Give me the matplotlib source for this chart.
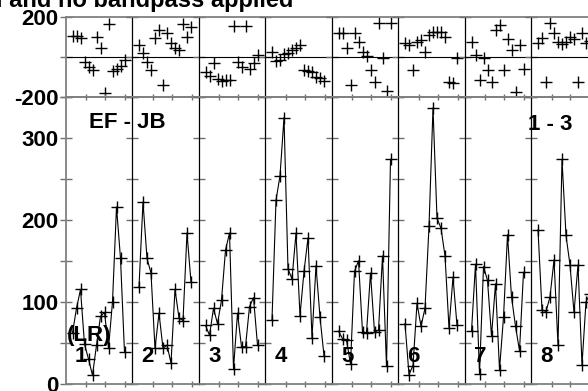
import matplotlib
matplotlib.use("Agg")
import matplotlib.pyplot as plt
import numpy as np

plt.rcParams['font.family'] = ['Liberation Sans', 'DejaVu Sans']
plt.rcParams['font.weight'] = 'bold'

# Data (14 channels per IF)
channels = np.arange(1, 15)
if_labels = ['1', '2', '3', '4', '5', '6', '7', '8']
baseline = 'EF - JB'
polarization = '(LR)'
timerange = '1 - 3'
title = 'Vector averaged, calibration applied and no bandpass applied'

amp_if1 = [62, 92, 115, 48, 30, 10, 47, 82, 87, 43, 100, 216, 153, 38]
amp_if2 = [118, 222, 153, 135, 43, 86, 43, 47, 25, 115, 80, 77, 184, 124]
amp_if3 = [71, 59, 92, 73, 102, 163, 184, 18, 86, 45, 45, 94, 105, 47]
amp_if4 = [78, 224, 254, 325, 140, 128, 184, 83, 137, 178, 56, 144, 81, 34]
amp_if5 = [64, 55, 53, 24, 137, 150, 63, 62, 135, 63, 65, 156, 21, 274]
amp_if6 = [73, 11, 22, 98, 70, 92, 192, 337, 202, 190, 156, 68, 130, 71]
amp_if7 = [64, 146, 12, 143, 126, 58, 122, 17, 81, 182, 106, 70, 40, 136]
amp_if8 = [188, 90, 88, 106, 151, 47, 274, 181, 145, 87, 145, 23, 100, 110]

phase_if1 = [106, 106, 95, -22, -47, -63, 100, 45, -177, 166, -67, -58, -42, -13]
phase_if2 = [61, 20, -22, -63, 95, 136, -138, 120, 70, 45, 36, 166, 100, 153]
phase_if3 = [-72, -93, -30, -110, -117, -113, -113, 156, -22, -47, 156, -60, -27, 11]
phase_if4 = [28, -17, -13, 16, 23, 36, 45, 61, -63, -67, -72, -100, -105, -117]
phase_if5 = [120, 120, 45, -138, 120, 78, 28, 8, -63, -122, 170, -5, -167, 173]
phase_if6 = [70, 61, -63, 78, 86, 28, 111, 125, 128, 128, 103, -122, -130, -5]
phase_if7 = [78, 11, -113, -5, -63, -122, 136, 161, -63, 90, 36, -172, 61, -60]
phase_if8 = [73, 95, -122, 170, 123, 78, 67, 78, 100, 90, -122, 123, 73, 80]

amps = [amp_if1, amp_if2, amp_if3, amp_if4, amp_if5, amp_if6, amp_if7, amp_if8]
phases = [phase_if1, phase_if2, phase_if3, phase_if4, phase_if5, phase_if6, phase_if7, phase_if8]

# layout in pixels
W, H = 588, 391
x0, pw = 65.5, 66.5
ph_top, mid, am_bot = 17.3, 97.3, 383.5
grey = '#808080'
fs = 16


def rect(left, top, bottom):
    return [left / W, 1 - bottom / H, pw / W, (bottom - top) / H]


fig = plt.figure(figsize=(W / 100, H / 100), dpi=100)

for p in range(8):
    left = x0 + p * pw
    ax_ph = fig.add_axes(rect(left, ph_top, mid))
    ax_am = fig.add_axes(rect(left, mid, am_bot))

    ax_ph.plot(channels, phases[p], ls='none', marker='+', ms=8, mew=1.0, color='black')
    ax_ph.axhline(0, color='black', lw=0.8)
    ax_am.plot(channels, amps[p], color='black', lw=0.8, marker='+', ms=8, mew=1.0)

    for ax in (ax_ph, ax_am):
        ax.set_xlim(-0.75, 15.875)
        for side in ('top', 'bottom', 'left', 'right'):
            ax.spines[side].set_color(grey)
            ax.spines[side].set_linewidth(1.3)
        if p > 0:
            ax.spines['left'].set_color('black')
            ax.spines['left'].set_linewidth(0.9)
        if p < 7:
            ax.spines['right'].set_visible(False)
        ax.tick_params(axis='y', direction='inout', length=8.4, width=1.0,
                       color='#707070', pad=1, labelsize=fs, labelleft=(p == 0))
        ax.patch.set_alpha(0)

    ax_ph.set_ylim(-200, 200)
    ax_ph.set_yticks([-200, 0, 200])
    ax_ph.set_yticklabels(['-200', '', '200'], fontweight='bold')
    ax_ph.set_xticks([])

    ax_am.set_ylim(0, 350)
    ax_am.set_yticks(np.arange(0, 351, 50))
    ax_am.set_yticklabels(['0', '', '100', '', '200', '', '300', ''], fontweight='bold')
    ax_am.set_xticks([4.375, 9.125, 14.125])
    ax_am.tick_params(axis='x', direction='inout', length=5, width=1.0, color='#707070',
                      top=True, bottom=True, labelbottom=False)

    fig.text((left + 9.5) / W, 1 - 356 / H, if_labels[p], ha='left', va='center',
             fontsize=fs, fontweight='bold')

fig.text(89 / W, 1 - 123 / H, baseline, ha='left', va='center', fontsize=fs, fontweight='bold')
fig.text(528 / W, 1 - 124.5 / H, timerange, ha='left', va='center', fontsize=fs, fontweight='bold')
fig.text(67 / W, 1 - 336 / H, polarization, ha='left', va='center', fontsize=fs, fontweight='bold')
fig.text(293 / W, 1 - 7.5 / H, title, ha='right', va='baseline', fontsize=17, fontweight='bold')

fig.savefig('out.png', dpi=100)
